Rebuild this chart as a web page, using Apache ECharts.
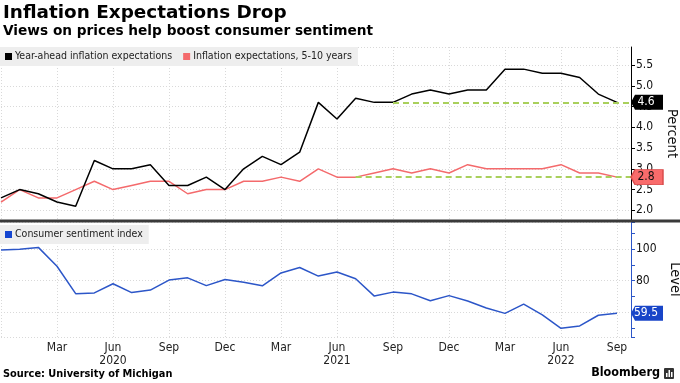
<!DOCTYPE html>
<html><head><meta charset="utf-8">
<script src="https://cdn.jsdelivr.net/npm/echarts@6/dist/echarts.min.js"></script>
<style>html,body{margin:0;padding:0;background:#fff}#c{width:680px;height:383px}</style>
</head><body><div id="c"></div>
<script>
// ---- data ----
const months = ['2019-12','2020-01','2020-02','2020-03','2020-04','2020-05','2020-06','2020-07','2020-08','2020-09','2020-10','2020-11','2020-12',
  '2021-01','2021-02','2021-03','2021-04','2021-05','2021-06','2021-07','2021-08','2021-09','2021-10','2021-11','2021-12',
  '2022-01','2022-02','2022-03','2022-04','2022-05','2022-06','2022-07','2022-08','2022-09'];
const yearAhead = [2.3,2.5,2.4,2.2,2.1,3.2,3.0,3.0,3.1,2.6,2.6,2.8,2.5,3.0,3.3,3.1,3.4,4.6,4.2,4.7,4.6,4.6,4.8,4.9,4.8,4.9,4.9,5.4,5.4,5.3,5.3,5.2,4.8,4.6];
const longRun = [2.2,2.5,2.3,2.3,2.5,2.7,2.5,2.6,2.7,2.7,2.4,2.5,2.5,2.7,2.7,2.8,2.7,3.0,2.8,2.8,2.9,3.0,2.9,3.0,2.9,3.1,3.0,3.0,3.0,3.0,3.1,2.9,2.9,2.8];
const sentiment = [99.3,99.8,101.0,89.1,71.8,72.3,78.1,72.5,74.1,80.4,81.8,76.9,80.7,79.0,76.8,84.9,88.3,82.9,85.5,81.2,70.3,72.8,71.7,67.4,70.6,67.2,62.8,59.4,65.2,58.4,50.0,51.5,58.2,59.5];
const monthNames = ['Jan','Feb','Mar','Apr','May','Jun','Jul','Aug','Sep','Oct','Nov','Dec'];
const yearLabelMonth = 'Jun';
const dashStartYearAhead = '2021-09';
const dashStartLongRun = '2021-07';
const seriesNames = ['Year-ahead inflation expectations','Inflation expectations, 5-10 years','Consumer sentiment index'];

// ---- layout / style ----
const FONT = "'DejaVu Sans Condensed','Liberation Sans',sans-serif";
const BOLD = "'DejaVu Sans',sans-serif";
const X_MAX = 33.75;
const TAG = 'path://M0,7.5L4,0L32,0L32,15L4,15Z';
const idx = m => months.indexOf(m);
const pts = arr => arr.map((v,i)=>[i,v]);
const last = arr => arr[arr.length-1];

function monthLabel(v){
  if (Math.abs(v - Math.round(v)) > 1e-6) return '';
  const m = months[v]; if (!m) return '';
  const name = monthNames[parseInt(m.slice(5),10)-1];
  return name === yearLabelMonth ? name + '\n' + m.slice(0,4) : name;
}

function tag(value, fill, textColor, border){
  return {
    symbol: TAG, symbolSize:[32,15], symbolOffset:['50%',0], symbolKeepAspect:false,
    silent:true,
    itemStyle:{color:fill, borderColor:border||fill, borderWidth: border?1:0},
    label:{show:true, position:'inside', offset:[-1,0], color:textColor, fontSize:12, fontFamily:FONT,
      formatter: ()=> value.toFixed(1)},
    data:[{coord:[X_MAX, value], value:value}]
  };
}
function dash(start, value){
  return {
    silent:true, symbol:['none','none'], label:{show:false},
    lineStyle:{color:'#a9d05c', type:[6,4], width:2},
    data:[[{coord:[idx(start), value]},{coord:[X_MAX, value]}]]
  };
}
const gridLine = {show:true, lineStyle:{color:'#d9d9d9', type:[1,2], width:1}};

const chart = echarts.init(document.getElementById('c'), null, {renderer:'canvas'});
chart.setOption({
  animation:false,
  backgroundColor:'#fff',
  textStyle:{fontFamily:FONT},
  grid:[
    {left:1, top:47, width:630, height:173, outerBoundsMode:'none', containLabel:false},
    {left:1, top:222, width:630, height:115, outerBoundsMode:'none', containLabel:false}
  ],
  legend:[
    {data:[seriesNames[0], seriesNames[1]], left:0, top:47, orient:'horizontal',
     backgroundColor:'#eeeeee', padding:[4,6,4,5], itemGap:11, itemWidth:7, itemHeight:7, icon:'rect',
     textStyle:{fontSize:10.5, color:'#222', fontFamily:FONT, padding:[0,0,0,-2]}, selectedMode:false},
    {data:[seriesNames[2]], left:0, top:225, backgroundColor:'#eeeeee', padding:[4,6,4,5],
     itemWidth:7, itemHeight:7, icon:'rect',
     textStyle:{fontSize:10.5, color:'#222', fontFamily:FONT, padding:[0,0,0,-2]}, selectedMode:false}
  ],
  xAxis:[
    {type:'value', gridIndex:0, min:0, max:X_MAX, interval:3,
     axisLine:{show:false, onZero:false}, axisTick:{show:false}, axisLabel:{show:false}, splitLine:gridLine},
    {type:'value', gridIndex:1, min:0, max:X_MAX, interval:3,
     axisLine:{show:false, onZero:false}, axisTick:{show:false}, splitLine:gridLine,
     axisLabel:{show:true, showMinLabel:false, showMaxLabel:false, formatter:monthLabel,
       color:'#222', fontSize:12, fontFamily:FONT, margin:4, lineHeight:13}}
  ],
  yAxis:[
    {type:'value', gridIndex:0, position:'right', min:1.768, max:5.933, minInterval:0.5, maxInterval:0.5,
     axisLine:{show:true, onZero:false, lineStyle:{color:'#000', width:1}},
     axisTick:{show:true, length:4, lineStyle:{color:'#000'}},
     axisLabel:{show:true, showMinLabel:false, showMaxLabel:false, margin:5, color:'#111', fontSize:12, fontFamily:FONT,
       formatter:v=>v.toFixed(1)},
     splitLine:gridLine,
     name:'Percent', nameLocation:'middle', nameRotate:-90, nameGap:33,
     nameTextStyle:{fontSize:14.5, color:'#111', fontFamily:FONT}},
    {type:'value', gridIndex:1, position:'right', min:44.5, max:117, minInterval:20, maxInterval:20,
     axisLine:{show:true, onZero:false, lineStyle:{color:'#2c56c8', width:1}},
     axisTick:{show:true, length:4, lineStyle:{color:'#2c56c8'}},
     minorTick:{show:true, splitNumber:2, length:4, lineStyle:{color:'#2c56c8'}},
     axisLabel:{show:true, showMinLabel:false, showMaxLabel:false, margin:5, color:'#111', fontSize:12, fontFamily:FONT},
     splitLine:gridLine,
     name:'Level', nameLocation:'middle', nameRotate:-90, nameGap:32,
     nameTextStyle:{fontSize:14.5, color:'#111', fontFamily:FONT}}
  ],
  series:[
    {name:seriesNames[1], type:'line', xAxisIndex:0, yAxisIndex:0, data:pts(longRun), showSymbol:false,
     color:'#f46a6c', lineStyle:{width:1.5, color:'#f46a6c'}, z:3,
     markLine:dash(dashStartLongRun, last(longRun)),
     markPoint:tag(last(longRun), '#f96b6b', '#111', '#d94a4a')},
    {name:seriesNames[0], type:'line', xAxisIndex:0, yAxisIndex:0, data:pts(yearAhead), showSymbol:false,
     color:'#000', lineStyle:{width:1.5, color:'#000'}, z:4,
     markLine:dash(dashStartYearAhead, last(yearAhead)),
     markPoint:tag(last(yearAhead), '#000', '#fff')},
    {name:seriesNames[2], type:'line', xAxisIndex:1, yAxisIndex:1, data:pts(sentiment), showSymbol:false,
     color:'#1546d0', lineStyle:{width:1.5, color:'#2c56c8'}, z:3,
     markPoint:tag(last(sentiment), '#1845c8', '#fff')}
  ],
  graphic:[
    {type:'text', left:3, top:4, style:{text:'Inflation Expectations Drop', font:"bold 18.4px "+BOLD, fill:'#000'}},
    {type:'text', left:3, top:24, style:{text:'Views on prices help boost consumer sentiment', font:"bold 13.7px "+BOLD, fill:'#000'}},
    {type:'rect', shape:{x:0, y:219.5, width:680, height:3}, style:{fill:'#3a3a3a'}, z:10},
    {type:'text', left:3, top:369, style:{text:'Source: University of Michigan', font:"bold 9.8px "+BOLD, fill:'#000'}},
    {type:'text', right:20, top:366, style:{text:'Bloomberg', font:"bold 12.5px "+FONT, fill:'#000'}},
    {type:'group', right:6, top:368, children:[
      {type:'rect', shape:{x:0, y:0, width:10, height:11, r:1}, style:{fill:'#333'}},
      {type:'rect', shape:{x:2, y:5, width:1.5, height:4}, style:{fill:'#fff'}},
      {type:'rect', shape:{x:4.5, y:2, width:1.5, height:7}, style:{fill:'#fff'}},
      {type:'rect', shape:{x:7, y:4, width:1.5, height:5}, style:{fill:'#fff'}}
    ]}
  ]
});
</script></body></html>
